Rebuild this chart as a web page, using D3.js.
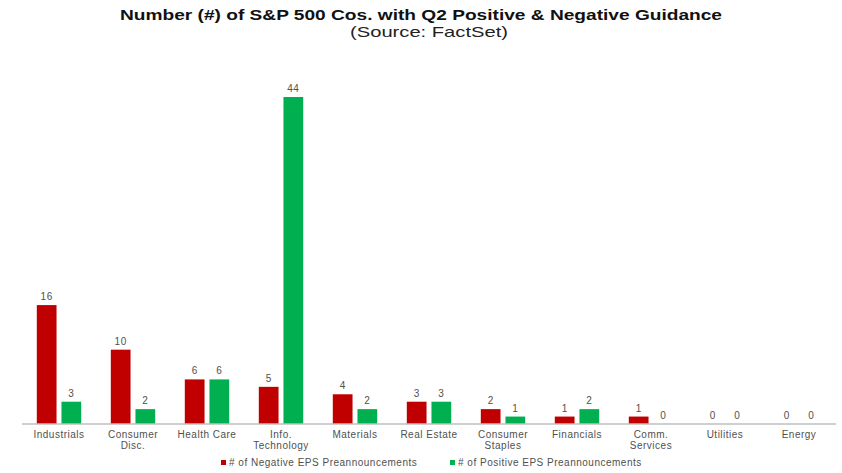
<!DOCTYPE html>
<html>
<head>
<meta charset="utf-8">
<script src="https://cdn.jsdelivr.net/npm/d3@7"></script>
<style>
  body { margin: 0; background: #fff; }
  svg { font-family: "Liberation Sans", Arial, sans-serif; }
</style>
</head>
<body>
<div id="chart"></div>
<script>
// data
const sectors = [
    ["Industrials"], ["Consumer", "Disc."], ["Health Care"], ["Info.", "Technology"],
    ["Materials"], ["Real Estate"], ["Consumer", "Staples"], ["Financials"],
    ["Comm.", "Services"], ["Utilities"], ["Energy"]
];
const negative = [16, 10, 6, 5, 4, 3, 2, 1, 1, 0, 0];
const positive = [3, 2, 6, 44, 2, 3, 1, 2, 0, 0, 0];
const seriesNames = ["# of Negative EPS Preannouncements", "# of Positive EPS Preannouncements"];
const colors = ["#c00000", "#00b050"];

const width = 842, height = 473;
const margin = { top: 97, right: 6, bottom: 49, left: 22 };
const plotH = height - margin.top - margin.bottom;

const svg = d3.select("#chart").append("svg")
    .attr("width", width)
    .attr("height", height);

// the source image is a bit stretched sideways, so fit text widths
svg.append("text")
    .attr("x", 120).attr("y", 20)
    .attr("textLength", 602).attr("lengthAdjust", "spacingAndGlyphs")
    .attr("font-size", 15.5).attr("font-weight", "bold")
    .attr("fill", "#111")
    .text("Number (#) of S&P 500 Cos. with Q2 Positive & Negative Guidance");

svg.append("text")
    .attr("x", 350).attr("y", 37)
    .attr("textLength", 158).attr("lengthAdjust", "spacingAndGlyphs")
    .attr("font-size", 15)
    .attr("fill", "#222")
    .text("(Source: FactSet)");

const g = svg.append("g").attr("transform", `translate(${margin.left},${margin.top})`);

const x0 = d3.scaleBand()
    .domain(d3.range(sectors.length))
    .range([0, width - margin.left - margin.right])
    .paddingInner(0.4)
    .paddingOuter(0.2);

const x1 = d3.scaleBand()
    .domain([0, 1])
    .range([0, x0.bandwidth()])
    .paddingInner(0.2);

const y = d3.scaleLinear()
    .domain([0, 44])
    .range([plotH, 0]);

const groups = g.selectAll(".grp")
    .data(sectors.map((s, i) => ({ i, vals: [negative[i], positive[i]] })))
    .join("g")
    .attr("transform", d => `translate(${x0(d.i)},0)`);

groups.selectAll("rect")
    .data(d => d.vals.map((v, k) => ({ v, k })))
    .join("rect")
    .attr("x", d => x1(d.k))
    .attr("y", d => y(d.v))
    .attr("width", x1.bandwidth())
    .attr("height", d => plotH - y(d.v))
    .attr("fill", d => colors[d.k]);

groups.selectAll(".val")
    .data(d => d.vals.map((v, k) => ({ v, k })))
    .join("text")
    .attr("class", "val")
    .attr("x", d => x1(d.k) + x1.bandwidth() / 2)
    .attr("y", d => y(d.v) - 5)
    .attr("text-anchor", "middle")
    .attr("font-size", 10)
    .attr("letter-spacing", 0.5)
    .attr("fill", "#505050")
    .text(d => d.v);

// baseline
g.append("line")
    .attr("x1", 0).attr("x2", width - margin.left - margin.right)
    .attr("y1", plotH).attr("y2", plotH)
    .attr("stroke", "#bfbfbf").attr("stroke-width", 1.5);

// category labels
const xAxis = g.append("g").attr("transform", `translate(0,${plotH})`);
xAxis.selectAll("text")
    .data(sectors)
    .join("text")
    .attr("x", (d, i) => x0(i) + x0.bandwidth() / 2)
    .attr("y", 14)
    .attr("text-anchor", "middle")
    .attr("font-size", 10)
    .attr("letter-spacing", 0.5)
    .attr("fill", "#505050")
    .selectAll("tspan")
    .data(d => d)
    .join("tspan")
    .attr("x", function() { return this.parentNode.getAttribute("x"); })
    .attr("dy", (d, k) => k === 0 ? 0 : 11)
    .text(d => d);

// legend
const legendX = [221, 450];
const legend = svg.append("g");
seriesNames.forEach((name, k) => {
    legend.append("rect")
        .attr("x", legendX[k]).attr("y", 460)
        .attr("width", 5).attr("height", 5)
        .attr("fill", colors[k]);
    legend.append("text")
        .attr("x", legendX[k] + 8).attr("y", 466)
        .attr("font-size", 10)
        .attr("letter-spacing", 0.5)
        .attr("fill", "#505050")
        .text(name);
});
</script>
</body>
</html>
